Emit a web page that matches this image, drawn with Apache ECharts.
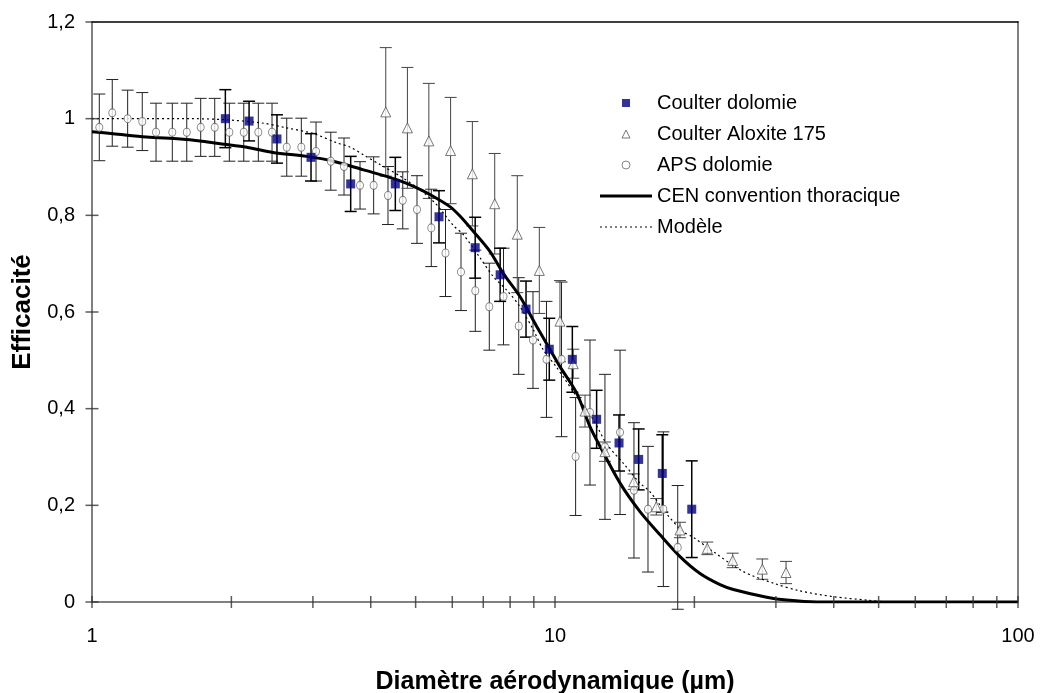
<!DOCTYPE html>
<html><head><meta charset="utf-8">
<script src="https://cdn.jsdelivr.net/npm/echarts@6/dist/echarts.min.js"></script>
<style>html,body{margin:0;padding:0;background:#fff}#c{width:1041px;height:693px}</style>
</head><body><div id="c"></div>
<script>
// ---- Data ----
const xTickValues = [1,2,3,4,5,6,7,8,9,10,20,30,40,50,60,70,80,90,100];
const yTickValues = [0,0.2,0.4,0.6,0.8,1.0,1.2];

// Coulter dolomie (squares)
const cdX   = [1.941,2.184,2.509,2.972,3.620,4.520,5.616,6.724,7.613,8.658,9.720,10.90,12.30,13.75,15.16,17.05,19.74];
const cdY   = [1.000,0.995,0.958,0.920,0.865,0.865,0.797,0.733,0.677,0.606,0.523,0.502,0.378,0.329,0.295,0.266,0.192];
const cdErr = [0.060,0.041,0.050,0.049,0.057,0.055,0.054,0.063,0.055,0.058,0.064,0.068,0.060,0.058,0.063,0.080,0.100];

// Coulter Aloxite 175 (triangles)
const taX   = [4.31,4.80,5.34,5.95,6.63,7.41,8.29,9.25,10.25,10.95,11.61,12.82,14.79,16.55,18.62,21.33,24.20,28.04,31.55];
const taY   = [1.014,0.981,0.954,0.934,0.886,0.824,0.761,0.686,0.581,0.493,0.395,0.311,0.249,0.197,0.149,0.111,0.086,0.068,0.061];
const taErr = [0.133,0.125,0.119,0.110,0.108,0.104,0.121,0.089,0.084,0.030,0.033,0.020,0.016,0.017,0.016,0.013,0.015,0.021,0.023];

// APS dolomie (circles)
const apX   = [1.037,1.106,1.194,1.284,1.375,1.491,1.602,1.717,1.841,1.980,2.127,2.287,2.448,2.634,2.832,3.047,3.279,3.502,3.792,4.058,4.358,4.690,5.034,5.405,5.801,6.266,6.728,7.213,7.741,8.349,8.963,9.585,10.33,11.08,11.90,12.82,13.82,14.81,15.88,17.14,18.41];
const apY   = [0.982,1.012,1.000,0.994,0.972,0.972,0.972,0.982,0.982,0.972,0.972,0.972,0.972,0.941,0.941,0.932,0.912,0.901,0.862,0.862,0.841,0.831,0.812,0.774,0.722,0.683,0.644,0.611,0.632,0.571,0.542,0.502,0.502,0.301,0.392,0.321,0.351,0.231,0.192,0.192,0.113];
const apErr = [0.069,0.069,0.059,0.060,0.060,0.060,0.060,0.060,0.060,0.060,0.060,0.060,0.060,0.060,0.060,0.061,0.060,0.059,0.049,0.059,0.060,0.059,0.070,0.080,0.090,0.080,0.084,0.090,0.100,0.100,0.100,0.120,0.160,0.122,0.150,0.150,0.170,0.140,0.130,0.160,0.128];

// CEN convention thoracique (solid curve)
const cenX = [1,1.11,1.31,1.55,1.71,1.89,2.16,2.46,2.91,3.32,3.86,4.55,5.03,5.37,5.93,6.24,6.66,7.24,7.73,8.40,9.13,9.76,10.25,11.14,11.90,12.51,13.82,15.26,16.86,18.62,20.57,22.72,24.28,28.66,31.65,36.75,100];
const cenY = [0.973,0.969,0.962,0.958,0.954,0.948,0.941,0.930,0.922,0.912,0.894,0.874,0.857,0.843,0.818,0.798,0.767,0.725,0.680,0.632,0.570,0.522,0.487,0.432,0.363,0.322,0.246,0.187,0.139,0.094,0.059,0.036,0.026,0.010,0.004,0,0];

// Modèle (dotted curve)
const modX = [1,1.63,1.92,2.33,2.63,3.01,3.38,3.61,3.86,4.19,4.63,5.11,5.55,6.03,6.34,6.89,7.36,7.87,8.40,8.98,9.43,10.09,11.14,12.10,12.93,14.05,15.26,16.04,17.43,18.93,19.89,21.98,25.51,29.61,33.82,39.90,47.10,52.90,100];
const modY = [1.000,1.000,0.998,0.991,0.981,0.969,0.950,0.941,0.925,0.905,0.881,0.853,0.822,0.779,0.760,0.712,0.673,0.645,0.611,0.563,0.522,0.485,0.425,0.377,0.327,0.287,0.246,0.228,0.182,0.145,0.134,0.104,0.063,0.039,0.023,0.011,0.004,0,0];

// ---- Chart ----
const FONT = "'Liberation Sans', Arial, sans-serif";
const zip3 = (a,b,c) => a.map((v,i)=>[v,b[i],c[i]]);
const zip2 = (a,b) => a.map((v,i)=>[v,b[i]]);

// legend icon shapes (pure styling)
const solidIcon = 'path://M0,0L52,0L52,3L0,3Z';
let dotPath = 'path://';
for (let i = 0; i <= 50; i += 5) dotPath += 'M' + i + ',0L' + (i + 2) + ',0L' + (i + 2) + ',1.2L' + i + ',1.2Z';

function errSeries(name, x, y, e, color, width) {
  return {
    type: 'custom', name: name, clip: false, silent: true, z: 2,
    data: zip3(x, y, e),
    encode: { x: 0, y: 1 },
    renderItem: function (params, api) {
      const xv = api.value(0), yv = api.value(1), ev = api.value(2);
      const t = api.coord([xv, yv + ev]);
      const b = api.coord([xv, yv - ev]);
      const w = 6;
      const st = { stroke: color, lineWidth: width };
      return { type: 'group', children: [
        { type: 'line', shape: { x1: t[0], y1: t[1], x2: b[0], y2: b[1] }, style: st },
        { type: 'line', shape: { x1: t[0]-w, y1: t[1], x2: t[0]+w, y2: t[1] }, style: st },
        { type: 'line', shape: { x1: b[0]-w, y1: b[1], x2: b[0]+w, y2: b[1] }, style: st }
      ]};
    }
  };
}

const chart = echarts.init(document.getElementById('c'), null, { renderer: 'canvas' });
chart.setOption({
  animation: false,
  backgroundColor: '#fff',
  textStyle: { fontFamily: FONT },
  grid: { left: 92, right: 23, top: 22, bottom: 91, containLabel: false, outerBoundsMode: 'none' },
  legend: {
    orient: 'vertical', left: 600, top: 93, padding: 0,
    itemWidth: 52, itemHeight: 8, itemGap: 11,
    symbolKeepAspect: true,
    textStyle: { fontFamily: FONT, fontSize: 20, color: '#000' },
    data: [
      { name: 'Coulter dolomie', icon: 'path://M0,0L10,0L10,10L0,10Z', itemStyle: { color: '#000080', borderWidth: 0 } },
      { name: 'Coulter Aloxite 175', icon: 'path://M5,0L10,10L0,10Z', itemStyle: { color: '#fff', borderColor: '#555', borderWidth: 1 } },
      { name: 'APS dolomie', icon: 'circle', itemStyle: { color: '#fff', borderColor: '#666', borderWidth: 1 } },
      { name: 'CEN convention thoracique', icon: solidIcon, itemStyle: { color: '#000', borderWidth: 0 } },
      { name: 'Modèle', icon: dotPath, itemStyle: { color: '#000', borderWidth: 0 } }
    ]
  },
  xAxis: [{
    type: 'log', logBase: 10, min: 1, max: 100,
    name: 'Diamètre aérodynamique (µm)', nameLocation: 'middle', nameGap: 68,
    nameTextStyle: { fontFamily: FONT, fontSize: 25, fontWeight: 'bold', color: '#000' },
    axisLine: { show: true, onZero: false, lineStyle: { color: '#808080', width: 2 } },
    axisTick: { show: false },
    axisLabel: { fontFamily: FONT, fontSize: 20, color: '#000', margin: 24 },
    splitLine: { show: false }, minorTick: { show: false }, minorSplitLine: { show: false }
  }, {
    type: 'value', position: 'top', min: 0, max: 1,
    axisLine: { show: true, onZero: false, lineStyle: { color: '#000', width: 1.5 } },
    axisTick: { show: false }, axisLabel: { show: false }, splitLine: { show: false }
  }],
  yAxis: [{
    type: 'value', min: 0, max: 1.2, interval: 0.2,
    name: 'Efficacité', nameLocation: 'middle', nameGap: 56, nameRotate: 90,
    nameTextStyle: { fontFamily: FONT, fontSize: 26, fontWeight: 'bold', color: '#000' },
    axisLine: { show: true, onZero: false, lineStyle: { color: '#808080', width: 2 } },
    axisTick: { show: false },
    axisLabel: { fontFamily: FONT, fontSize: 20, color: '#000', margin: 17,
      formatter: v => String(Math.round(v * 10) / 10).replace('.', ',') },
    splitLine: { show: false }
  }, {
    type: 'value', position: 'right', min: 0, max: 1,
    axisLine: { show: true, onZero: false, lineStyle: { color: '#808080', width: 2 } },
    axisTick: { show: false }, axisLabel: { show: false }, splitLine: { show: false }
  }],
  series: [
    errSeries('errAP', apX, apY, apErr, '#222', 1),
    errSeries('errTA', taX, taY, taErr, '#444', 1),
    errSeries('errCD', cdX, cdY, cdErr, '#000', 1.5),
    {
      type: 'line', name: 'CEN convention thoracique', data: zip2(cenX, cenY),
      symbol: 'none', smooth: 0.3, z: 3, silent: true,
      lineStyle: { color: '#000', width: 3 }, itemStyle: { color: '#000' }
    },
    {
      type: 'line', name: 'Modèle', data: zip2(modX, modY),
      symbol: 'none', smooth: 0.3, z: 3, silent: true,
      lineStyle: { color: '#000', width: 1.2, type: [2, 3] }, itemStyle: { color: '#000' }
    },
    {
      type: 'scatter', name: 'APS dolomie', data: zip2(apX, apY), z: 4,
      symbol: 'circle', symbolSize: [7, 8], clip: false,
      itemStyle: { color: '#fff', borderColor: '#666', borderWidth: 1 }
    },
    {
      type: 'scatter', name: 'Coulter Aloxite 175', data: zip2(taX, taY), z: 5,
      symbol: 'triangle', symbolSize: [10, 10],
      itemStyle: { color: '#fff', borderColor: '#555', borderWidth: 1 }
    },
    {
      type: 'scatter', name: 'Coulter dolomie', data: zip2(cdX, cdY), z: 6,
      symbol: 'rect', symbolSize: 9,
      itemStyle: { color: '#000080' }
    },
    {
      type: 'scatter', name: 'xticks', data: xTickValues.map(v => [v, 0]), z: 7,
      symbol: 'rect', symbolSize: [1.5, 12], clip: false, silent: true,
      itemStyle: { color: '#333' }
    },
    {
      type: 'scatter', name: 'yticks', data: yTickValues.map(v => [1, v]), z: 7,
      symbol: 'rect', symbolSize: [13, 1.5], clip: false, silent: true,
      itemStyle: { color: '#333' }
    }
  ]
});
</script></body></html>
